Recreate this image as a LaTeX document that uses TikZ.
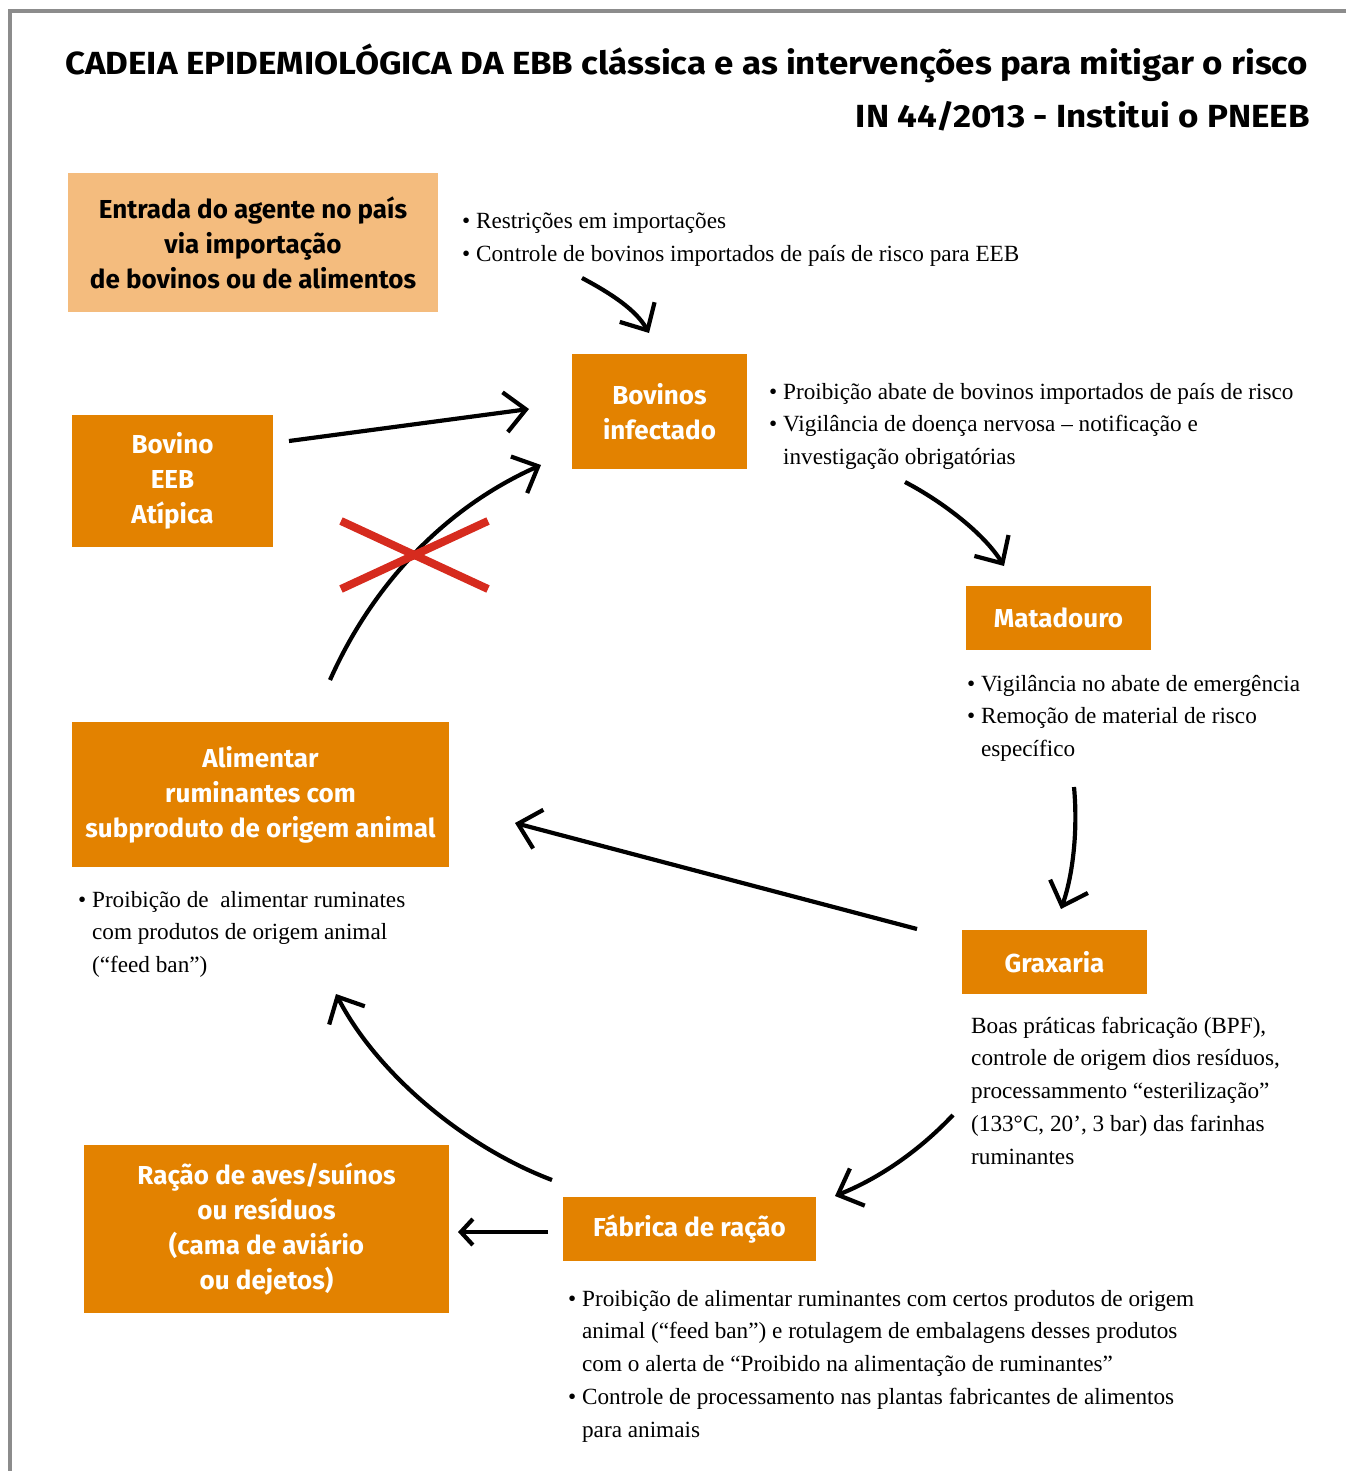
\documentclass[tikz,border=0pt]{standalone}
\usepackage{fontspec}
\usepackage{graphicx}
\setmainfont{Liberation Serif}
\newfontfamily\boxfont{Fira Sans}
\usetikzlibrary{arrows.meta}
\definecolor{boxorange}{HTML}{E38200}
\definecolor{lightorange}{HTML}{F4BC7E}
\definecolor{framegray}{HTML}{8C8C8C}
\definecolor{crossred}{HTML}{D62B1E}
\newcommand{\bul}{\textbullet\ }
\newcommand{\hang}{\hphantom{\textbullet\ }}
\begin{document}
\begin{tikzpicture}[x=1pt,y=-1pt,
  box/.style={fill=boxorange,text=white,inner sep=0pt,align=center,
    font=\boxfont\bfseries\fontsize{26}{35}\selectfont},
  lightbox/.style={box,fill=lightorange,text=black},
  note/.style={anchor=base west,inner sep=0pt,font=\fontsize{23.2}{32.8}\selectfont},
  flow/.style={line width=4.2pt,-{Straight Barb[length=21pt,width=40pt]}},
  smallflow/.style={line width=4.2pt,-{Straight Barb[length=12pt,width=26pt]}},
  cross/.style={line width=8pt,draw=crossred},
  titlefont/.style={inner sep=0pt,font=\boxfont\bfseries\fontsize{32}{40}\selectfont}]
\useasboundingbox (0,0) rectangle (1346,1471);
\draw[framegray,line width=4pt] (1346,11) -- (10,11) -- (10,1471);

% titles
\node[titlefont,anchor=base west] (title1) at (65,75)
  {\resizebox{1243pt}{\height}{CADEIA EPIDEMIOLÓGICA DA EBB clássica e as intervenções para mitigar o risco}};
\node[titlefont,anchor=base east] (title2) at (1310,128)
  {\resizebox{454pt}{\height}{IN 44/2013 - Institui o PNEEB}};

% boxes
\node[lightbox,minimum width=370pt,minimum height=139pt] (entrada) at (253,242.5)
  {Entrada do agente no país\\via importação\\de bovinos ou de alimentos};
\node[box,minimum width=175pt,minimum height=115pt] (infect) at (659.5,411.5)
  {Bovinos\\infectado};
\node[box,minimum width=201pt,minimum height=132pt] (atip) at (172.5,481)
  {Bovino\\EEB\\Atípica};
\node[box,minimum width=185pt,minimum height=64pt] (matad) at (1058.5,618)
  {Matadouro};
\node[box,minimum width=185pt,minimum height=64pt] (grax) at (1054.5,962)
  {Graxaria};
\node[box,minimum width=377pt,minimum height=145pt] (alim) at (260.5,794.5)
  {Alimentar\\ruminantes com\\subproduto de origem animal};
\node[box,minimum width=253pt,minimum height=64pt] (fabr) at (689.5,1229)
  {Fábrica de ração};
\node[box,minimum width=365pt,minimum height=168pt] (racao) at (266.5,1229)
  {Ração de aves/suínos\\ou resíduos\\(cama de aviário\\ou dejetos)};

% notes
\node[note] (n1) at (462,229) {\begin{tabular}[t]{@{}l@{}}
  \bul Restrições em importações\\
  \bul Controle de bovinos importados de país de risco para EEB\end{tabular}};
\node[note] (n2) at (769,399) {\begin{tabular}[t]{@{}l@{}}
  \bul Proibição abate de bovinos importados de país de risco\\
  \bul Vigilância de doença nervosa – notificação e\\
  \hang investigação obrigatórias\end{tabular}};
\node[note] (n3) at (967,691) {\begin{tabular}[t]{@{}l@{}}
  \bul Vigilância no abate de emergência\\
  \bul Remoção de material de risco\\
  \hang específico\end{tabular}};
\node[note] (n4) at (971,1033) {\begin{tabular}[t]{@{}l@{}}
  Boas práticas fabricação (BPF),\\
  controle de origem dios resíduos,\\
  processammento “esterilização”\\
  (133°C, 20’, 3 bar) das farinhas\\
  ruminantes\end{tabular}};
\node[note] (n5) at (78,907) {\begin{tabular}[t]{@{}l@{}}
  \bul Proibição de\ \ alimentar ruminates\\
  \hang com produtos de origem animal\\
  \hang (“feed ban”)\end{tabular}};
\node[note] (n6) at (568,1306) {\begin{tabular}[t]{@{}l@{}}
  \bul Proibição de alimentar ruminantes com certos produtos de origem\\
  \hang animal (“feed ban”) e rotulagem de embalagens desses produtos\\
  \hang com o alerta de “Proibido na alimentação de ruminantes”\\
  \bul Controle de processamento nas plantas fabricantes de alimentos\\
  \hang para animais\end{tabular}};

% connector end points
\coordinate (a1s) at (582,278);  \coordinate (a1e) at (649,333);
\coordinate (a2s) at (905,482);  \coordinate (a2e) at (1004,566);
\coordinate (a3s) at (1074,787); \coordinate (a3e) at (1061,909);
\coordinate (a4s) at (917,929);  \coordinate (a4e) at (515,823);
\coordinate (a5s) at (953,1115); \coordinate (a5e) at (835,1196);
\coordinate (a6s) at (548,1232); \coordinate (a6e) at (458,1232);
\coordinate (a7s) at (552,1180); \coordinate (a7e) at (336,994);
\coordinate (a8s) at (330,680);  \coordinate (a8e) at (541,465);
\coordinate (a9s) at (289,441);  \coordinate (a9e) at (529,409);

\draw[flow] (a1s) .. controls (612,294) and (636,310) .. (a1e);
\draw[flow] (a2s) .. controls (945,503) and (985,535) .. (a2e);
\draw[flow] (a3s) .. controls (1078,830) and (1073,875) .. (a3e);
\draw[flow] (a4s) -- (a4e);
\draw[flow] (a5s) .. controls (920,1150) and (880,1178) .. (a5e);
\draw[smallflow] (a6s) -- (a6e);
\draw[flow] (a7s) .. controls (460,1145) and (375,1070) .. (a7e);
\draw[flow] (a8s) .. controls (370,590) and (440,510) .. (a8e);
\draw[flow] (a9s) -- (a9e);

% red cross
\coordinate (x1) at (341,521); \coordinate (x2) at (488,589);
\coordinate (x3) at (341,589); \coordinate (x4) at (488,521);
\draw[cross] (x1) -- (x2);
\draw[cross] (x3) -- (x4);
\end{tikzpicture}
\end{document}
